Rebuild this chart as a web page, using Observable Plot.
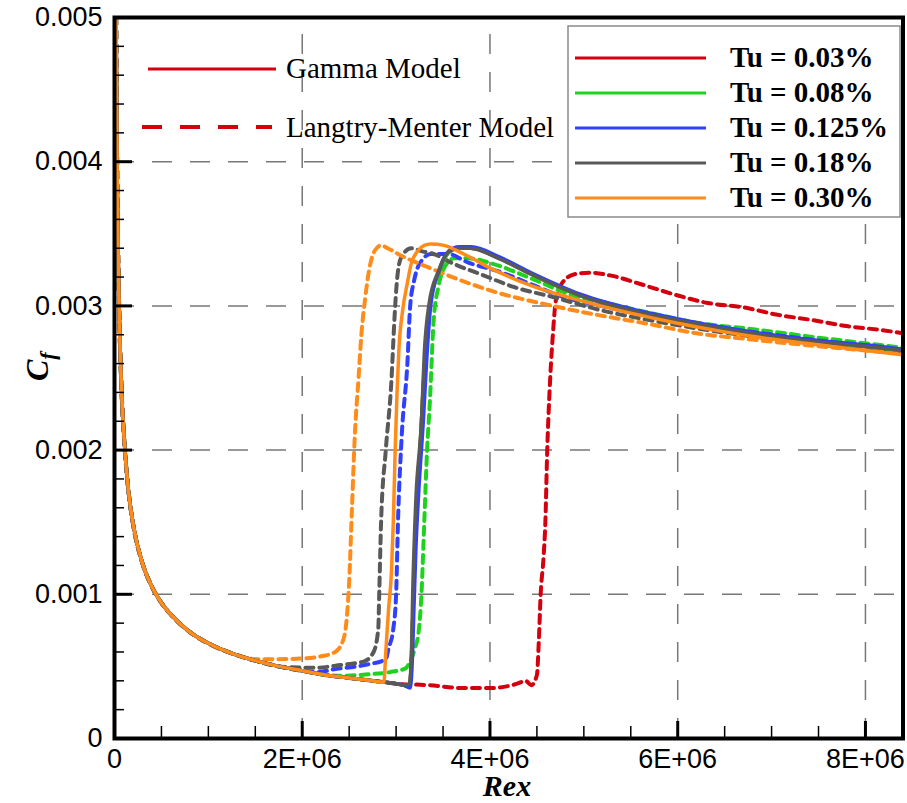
<!DOCTYPE html>
<html><head><meta charset="utf-8">
<script src="https://cdn.jsdelivr.net/npm/d3@7"></script>
<script src="https://cdn.jsdelivr.net/npm/@observablehq/plot@0.6"></script>
<style>body{margin:0;background:#fff}</style>
</head><body><div id="chart"></div>
<script>
// ---------- data ----------
const laminarRex = [1.6e4, 2e4, 3e4, 5e4, 7.5e4, 1e5, 1.5e5, 2e5, 3e5, 4e5, 5e5, 6e5, 8e5, 1e6, 1.25e6, 1.5e6, 1.75e6, 2e6, 2.25e6, 2.5e6, 2.75e6, 3e6];
const laminarCf  = [0.0052, 0.0047, 0.00383, 0.00297, 0.00242, 0.0021, 0.00171, 0.00148, 0.00121, 0.00105, 0.00094, 0.00086, 0.00074, 0.00066, 0.00059, 0.00054, 0.0005, 0.00047, 0.00044, 0.00042, 0.0004, 0.00038];

const tuLabels = ["Tu = 0.03%", "Tu = 0.08%", "Tu = 0.125%", "Tu = 0.18%", "Tu = 0.30%"];
const tuColors = ["#d4000e", "#1ed21e", "#3040ff", "#595959", "#ff8c1a"];
const modelLabels = ["Gamma Model", "Langtry-Menter Model"];

// laminar part is kept up to these Rex values, then the listed points follow
const gammaCut = [3.0e6, 3.0e6, 3.0e6, 3.0e6, 2.75e6];
const lmCut    = [2.75e6, 2.25e6, 2.0e6, 1.75e6, 1.4e6];

// Gamma model (solid)
const gamma003 = [[3.08e6,0.00037],[3.14e6,0.00036],[3.16e6,0.0005],[3.18e6,0.0009],[3.2e6,0.0013],[3.23e6,0.0017],[3.27e6,0.0022],[3.31e6,0.00267],[3.36e6,0.00301],[3.46e6,0.00324],[3.56e6,0.00337],[3.67e6,0.0034],[3.8e6,0.0034],[4.1e6,0.00333],[4.44e6,0.00322],[4.97e6,0.00307],[5.5e6,0.00297],[6e6,0.0029],[6.5e6,0.00284],[7e6,0.00279],[7.5e6,0.00275],[8e6,0.00272],[8.4e6,0.00269]];
const gamma008 = [[3.08e6,0.00037],[3.14e6,0.00036],[3.16e6,0.0005],[3.18e6,0.0009],[3.2e6,0.0013],[3.23e6,0.0017],[3.27e6,0.0022],[3.31e6,0.00267],[3.36e6,0.00301],[3.46e6,0.00324],[3.56e6,0.00337],[3.67e6,0.0034],[3.8e6,0.0034],[4.1e6,0.00333],[4.44e6,0.00322],[4.97e6,0.00307],[5.5e6,0.00297],[6e6,0.0029],[6.5e6,0.00284],[7e6,0.00279],[7.5e6,0.00275],[8e6,0.00272],[8.4e6,0.00269]];
const gamma0125 = [[3.08e6,0.00037],[3.15e6,0.00035],[3.17e6,0.0005],[3.19e6,0.0009],[3.21e6,0.0013],[3.24e6,0.0017],[3.29e6,0.0022],[3.33e6,0.00267],[3.37e6,0.00301],[3.46e6,0.00325],[3.56e6,0.00338],[3.67e6,0.00341],[3.8e6,0.00341],[4.1e6,0.00334],[4.44e6,0.00323],[4.97e6,0.00308],[5.5e6,0.00298],[6e6,0.00291],[6.5e6,0.00285],[7e6,0.0028],[7.5e6,0.00276],[8e6,0.00273],[8.4e6,0.0027]];
const gamma018 = [[3.08e6,0.00037],[3.14e6,0.000375],[3.16e6,0.00053],[3.18e6,0.00109],[3.21e6,0.00165],[3.27e6,0.0022],[3.3e6,0.00267],[3.35e6,0.00301],[3.45e6,0.00324],[3.55e6,0.00337],[3.66e6,0.0034],[3.79e6,0.0034],[4.09e6,0.00333],[4.44e6,0.00322],[4.97e6,0.00307],[5.5e6,0.00297],[6e6,0.0029],[6.5e6,0.00284],[7e6,0.00279],[7.5e6,0.00275],[8e6,0.00272],[8.4e6,0.00269]];
const gamma030 = [[2.87e6,0.00039],[2.89e6,0.0006],[2.92e6,0.0009],[2.95e6,0.00115],[2.97e6,0.0015],[2.99e6,0.002],[3.01e6,0.0024],[3.03e6,0.0027],[3.07e6,0.00297],[3.12e6,0.00316],[3.16e6,0.00329],[3.23e6,0.00338],[3.3e6,0.00342],[3.37e6,0.00343],[3.51e6,0.00342],[3.72e6,0.00336],[4.01e6,0.00326],[4.44e6,0.00314],[5.0e6,0.00303],[5.5e6,0.00295],[6e6,0.00288],[6.5e6,0.00282],[7e6,0.00277],[7.5e6,0.00273],[8e6,0.00269],[8.4e6,0.00266]];

// Langtry-Menter model (dashed)
const lm003 = [[3.0e6,0.00038],[3.35e6,0.00037],[3.7e6,0.00035],[4.0e6,0.00035],[4.29e6,0.00038],[4.38e6,0.0004],[4.44e6,0.00037],[4.5e6,0.00044],[4.52e6,0.00067],[4.54e6,0.001],[4.57e6,0.00125],[4.59e6,0.0015],[4.61e6,0.002],[4.63e6,0.00234],[4.65e6,0.0026],[4.67e6,0.0028],[4.7e6,0.00303],[4.76e6,0.00315],[4.9e6,0.00322],[5.07e6,0.00323],[5.29e6,0.00321],[5.61e6,0.00315],[5.96e6,0.00308],[6.32e6,0.00302],[6.7e6,0.00299],[7.05e6,0.00294],[7.45e6,0.0029],[7.8e6,0.00286],[8.2e6,0.00283],[8.4e6,0.00281]];
const lm008 = [[2.4e6,0.000435],[2.7e6,0.000445],[2.93e6,0.00046],[3.1e6,0.000486],[3.15e6,0.000535],[3.2e6,0.000625],[3.24e6,0.00074],[3.27e6,0.001],[3.3e6,0.0015],[3.33e6,0.002],[3.36e6,0.00234],[3.4e6,0.0029],[3.45e6,0.00313],[3.51e6,0.00326],[3.62e6,0.00333],[3.77e6,0.00333],[4.04e6,0.00329],[4.44e6,0.00319],[4.9e6,0.00307],[5.18e6,0.00303],[5.71e6,0.00295],[6.24e6,0.00288],[6.78e6,0.00284],[7.5e6,0.00278],[8.4e6,0.00271]];
const lm0125 = [[2.15e6,0.00046],[2.34e6,0.00048],[2.7e6,0.000514],[2.89e6,0.00055],[2.92e6,0.000625],[2.97e6,0.00076],[3.0e6,0.001],[3.02e6,0.0015],[3.06e6,0.0021],[3.12e6,0.0026],[3.15e6,0.003],[3.19e6,0.00317],[3.24e6,0.00328],[3.37e6,0.00336],[3.55e6,0.00336],[3.77e6,0.0033],[4.09e6,0.00324],[4.44e6,0.00315],[4.79e6,0.00306],[5.18e6,0.003],[5.71e6,0.00293],[6.24e6,0.00286],[6.78e6,0.00282],[7.5e6,0.00276],[8.4e6,0.00269]];
const lm018 = [[1.85e6,0.000495],[2.13e6,0.00049],[2.41e6,0.00051],[2.66e6,0.000535],[2.76e6,0.0006],[2.81e6,0.00076],[2.82e6,0.001],[2.84e6,0.0015],[2.89e6,0.002],[2.95e6,0.00248],[2.98e6,0.00288],[3.0e6,0.0031],[3.05e6,0.00333],[3.16e6,0.0034],[3.27e6,0.00338],[3.4e6,0.00336],[3.62e6,0.00329],[3.9e6,0.00322],[4.26e6,0.00313],[4.68e6,0.00306],[5.18e6,0.00297],[5.71e6,0.0029],[6.24e6,0.00284],[6.78e6,0.00279],[7.5e6,0.00274],[8.4e6,0.00268]];
const lm030 = [[1.5e6,0.00055],[1.7e6,0.00055],[2.0e6,0.000555],[2.2e6,0.00057],[2.35e6,0.0006],[2.44e6,0.00069],[2.48e6,0.00088],[2.5e6,0.00109],[2.53e6,0.0016],[2.56e6,0.0021],[2.6e6,0.0025],[2.63e6,0.0028],[2.67e6,0.00305],[2.71e6,0.00324],[2.77e6,0.00338],[2.84e6,0.00342],[2.91e6,0.0034],[3.02e6,0.00336],[3.37e6,0.00326],[3.72e6,0.00317],[4.09e6,0.00309],[4.6e6,0.00301],[5.12e6,0.00294],[5.65e6,0.00288],[6.2e6,0.00281],[6.74e6,0.00277],[7.5e6,0.00272],[8.4e6,0.00267]];

const xDomain = [0, 8.4e6];
const yDomain = [0, 0.005];
const xMajorTicks = [0, 2e6, 4e6, 6e6, 8e6];
const xTickLabels = ["0", "2E+06", "4E+06", "6E+06", "8E+06"];
const xMinorTicks = [0.5e6, 1e6, 1.5e6, 2.5e6, 3e6, 3.5e6, 4.5e6, 5e6, 5.5e6, 6.5e6, 7e6, 7.5e6];
const yMajorTicks = [0, 0.001, 0.002, 0.003, 0.004, 0.005];
const yTickLabels = ["0", "0.001", "0.002", "0.003", "0.004", "0.005"];
const yMinorTicks = [0.0002, 0.0004, 0.0006, 0.0008, 0.0012, 0.0014, 0.0016, 0.0018, 0.0022, 0.0024, 0.0026, 0.0028, 0.0032, 0.0034, 0.0036, 0.0038, 0.0042, 0.0044, 0.0046, 0.0048];
const xGrid = [2e6, 4e6, 6e6, 8e6];
const yGrid = [0.001, 0.002, 0.003, 0.004];

// ---------- build series ----------
function buildSeries(cut, pts) {
  const out = [];
  laminarRex.forEach((r, i) => { if (r <= cut) out.push({x: r, y: laminarCf[i]}); });
  pts.forEach(([x, y]) => out.push({x, y}));
  return out;
}
const gammaSets = [gamma003, gamma008, gamma0125, gamma018, gamma030];
const lmSets = [lm003, lm008, lm0125, lm018, lm030];
const gammaSeries = gammaSets.map((p, i) => buildSeries(gammaCut[i], p));
const lmSeries = lmSets.map((p, i) => buildSeries(lmCut[i], p));

const serif = "'Liberation Serif', 'Times New Roman', serif";
const sans = "'Liberation Sans', Arial, Helvetica, sans-serif";

const marks = [
  Plot.ruleX(xGrid, {x: d => d, y1: yDomain[0], y2: yDomain[1], stroke: "#777", strokeWidth: 1.5, strokeDasharray: "20,18"}),
  Plot.ruleY(yGrid, {y: d => d, stroke: "#777", strokeWidth: 1.5, strokeDasharray: "20,18"}),
  ...lmSeries.map((s, i) => Plot.line(s, {x: "x", y: "y", stroke: tuColors[i], strokeWidth: 4, strokeDasharray: "8,6", curve: "monotone-x", clip: true})),
  ...gammaSeries.map((s, i) => Plot.line(s, {x: "x", y: "y", stroke: tuColors[i], strokeWidth: 3.5, curve: "monotone-x", clip: true})),
  Plot.axisX(xMajorTicks, {tickSize: 0, tickPadding: 10, tickFormat: d => xTickLabels[xMajorTicks.indexOf(d)], fontSize: 27, label: null}),
  Plot.axisX(xMajorTicks, {tickSize: -17, strokeWidth: 3, fill: "none", label: null}),
  Plot.axisX(xMinorTicks, {tickSize: -12, strokeWidth: 1.5, fill: "none", label: null}),
  Plot.axisY(yMajorTicks, {tickSize: 0, tickPadding: 12, tickFormat: d => yTickLabels[yMajorTicks.indexOf(d)], fontSize: 27, label: null}),
  Plot.axisY(yMajorTicks, {tickSize: -18, strokeWidth: 3, fill: "none", label: null}),
  Plot.axisY(yMinorTicks, {tickSize: -10, strokeWidth: 1.5, fill: "none", label: null}),
  Plot.frame({stroke: "black", strokeWidth: 4})
];

const chart = Plot.plot({
  width: 907, height: 803,
  marginLeft: 114, marginRight: 4.5, marginTop: 17, marginBottom: 65,
  x: {domain: xDomain},
  y: {domain: yDomain},
  style: {fontFamily: sans, color: "black", background: "white"},
  marks
});
document.getElementById("chart").appendChild(chart);

// ---------- legends and axis titles ----------
const svg = d3.select(chart);
const lg = svg.append("g").attr("font-family", serif).attr("font-size", 29).attr("fill", "black").attr("text-anchor", "start");
lg.append("line").attr("x1", 148).attr("x2", 276).attr("y1", 69).attr("y2", 69)
  .attr("stroke", tuColors[0]).attr("stroke-width", 3);
lg.append("text").attr("x", 286).attr("y", 78).text(modelLabels[0]);
lg.append("line").attr("x1", 142).attr("x2", 272).attr("y1", 127).attr("y2", 127)
  .attr("stroke", tuColors[0]).attr("stroke-width", 4).attr("stroke-dasharray", "20,18");
lg.append("text").attr("x", 286).attr("y", 137).text(modelLabels[1]);

const rg = svg.append("g").attr("font-family", serif).attr("font-size", 29).attr("font-weight", "bold").attr("fill", "black").attr("text-anchor", "start");
rg.append("rect").attr("x", 568).attr("y", 26).attr("width", 332).attr("height", 191)
  .attr("fill", "white").attr("stroke", "#8a8a8a").attr("stroke-width", 1.5);
tuLabels.forEach((t, i) => {
  const y = 58 + i * 35;
  rg.append("line").attr("x1", 575).attr("x2", 706).attr("y1", y).attr("y2", y)
    .attr("stroke", tuColors[i]).attr("stroke-width", 3);
  rg.append("text").attr("x", 730).attr("y", y + 9).text(t);
});

svg.append("text").attr("x", 507).attr("y", 796).attr("text-anchor", "middle")
  .attr("font-family", serif).attr("font-size", 30).attr("font-weight", "bold").attr("font-style", "italic")
  .text("Rex");
const cf = svg.append("text").attr("transform", "translate(48,381) rotate(-90)").attr("text-anchor", "start")
  .attr("font-family", serif).attr("font-weight", "bold").attr("font-style", "italic");
cf.append("tspan").attr("font-size", 32).text("C");
cf.append("tspan").attr("font-size", 22).attr("dy", 7).text("f");
</script>
</body></html>
